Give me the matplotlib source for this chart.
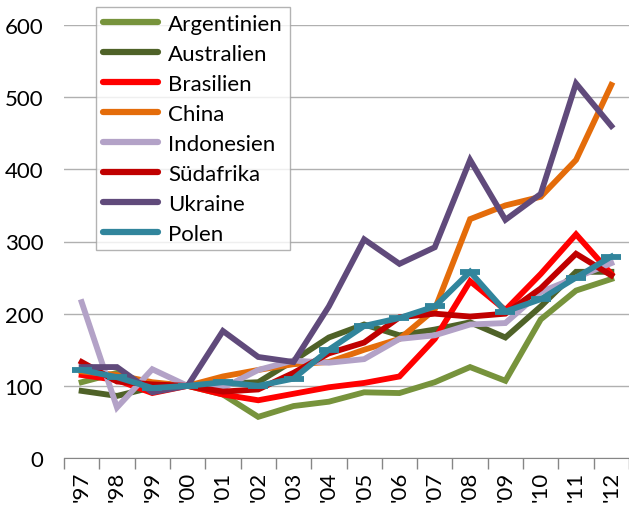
import matplotlib
matplotlib.use("Agg")
import matplotlib.pyplot as plt

years = ["'97", "'98", "'99", "'00", "'01", "'02", "'03", "'04",
         "'05", "'06", "'07", "'08", "'09", "'10", "'11", "'12"]

argentinien = [105, 118, 100, 100, 88, 57, 72, 78, 91, 90, 105, 126, 107, 192, 232, 248]
australien = [93, 86, 98, 100, 103, 105, 135, 167, 185, 170, 178, 188, 167, 210, 258, 258]
brasilien = [115, 108, 90, 100, 88, 80, 89, 98, 104, 113, 165, 245, 205, 255, 310, 255]
china = [120, 115, 105, 100, 113, 122, 130, 133, 150, 165, 206, 331, 350, 362, 413, 517]
indonesien = [216, 70, 123, 100, 97, 122, 135, 132, 137, 165, 170, 185, 187, 230, 250, 270]
suedafrika = [133, 106, 102, 100, 92, 95, 118, 145, 160, 195, 200, 196, 200, 235, 283, 253]
ukraine = [126, 126, 91, 100, 176, 140, 133, 210, 303, 269, 292, 413, 330, 366, 519, 460]
polen = [122, 112, 97, 100, 105, 100, 110, 150, 183, 194, 210, 258, 203, 220, 250, 279]

series_names = ["Argentinien", "Australien", "Brasilien", "China",
                "Indonesien", "Südafrika", "Ukraine", "Polen"]
series_values = [argentinien, australien, brasilien, china,
                 indonesien, suedafrika, ukraine, polen]
colors = ["#77933C", "#4F6228", "#FF0000", "#E46C0A",
          "#B3A2C7", "#C00000", "#604A7B", "#31859C"]

plt.rcParams['font.family'] = ['Lato', 'DejaVu Sans']

fig = plt.figure(figsize=(6.29, 5.06), dpi=100)
ax = fig.add_axes([64/629, (506-459)/506, 1 - 64/629, (459-26)/506])

x = list(range(len(years)))
lw = 4.2
for name, vals, c in zip(series_names, series_values, colors):
    if name == "Polen":
        ax.plot(x, vals, color=c, lw=lw, label=name, marker='_',
                markersize=14, markeredgewidth=4.2, solid_joinstyle='miter')
    else:
        ax.plot(x, vals, color=c, lw=lw, label=name, solid_joinstyle='miter')

ax.set_ylim(0, 600)
ax.set_xlim(-0.5, 15.5)
ax.set_yticks([0, 100, 200, 300, 400, 500, 600])
ax.yaxis.grid(True, color="#B0B0B0", lw=1.0)
ax.set_axisbelow(True)
ax.tick_params(axis='y', length=0, labelsize=16, pad=15)

ax.set_xticks([i - 0.5 for i in range(len(years) + 1)])
ax.set_xticklabels([])
ax.set_xticks(x, minor=True)
ax.set_xticklabels(years, minor=True, rotation=90, fontsize=16)
ax.tick_params(axis='x', which='major', length=8, color="#868686", width=1)
ax.tick_params(axis='x', which='minor', length=0, pad=9)

for s in ['top', 'right', 'left']:
    ax.spines[s].set_visible(False)
ax.spines['bottom'].set_color("#868686")

leg = ax.legend(loc='upper left', bbox_to_anchor=((96-64)/566, 1 + 18/433),
                fontsize=16, frameon=True, fancybox=False, handlelength=2.5,
                labelspacing=0.45, borderpad=0.3, handletextpad=0.45,
                borderaxespad=0)
leg.get_frame().set_edgecolor("#A0A0A0")
leg.get_frame().set_linewidth(1.0)
for h in leg.get_lines():
    h.set_marker('')
    h.set_solid_capstyle('round')
    h.set_linewidth(4.5)

fig.savefig("out.png", dpi=100)
